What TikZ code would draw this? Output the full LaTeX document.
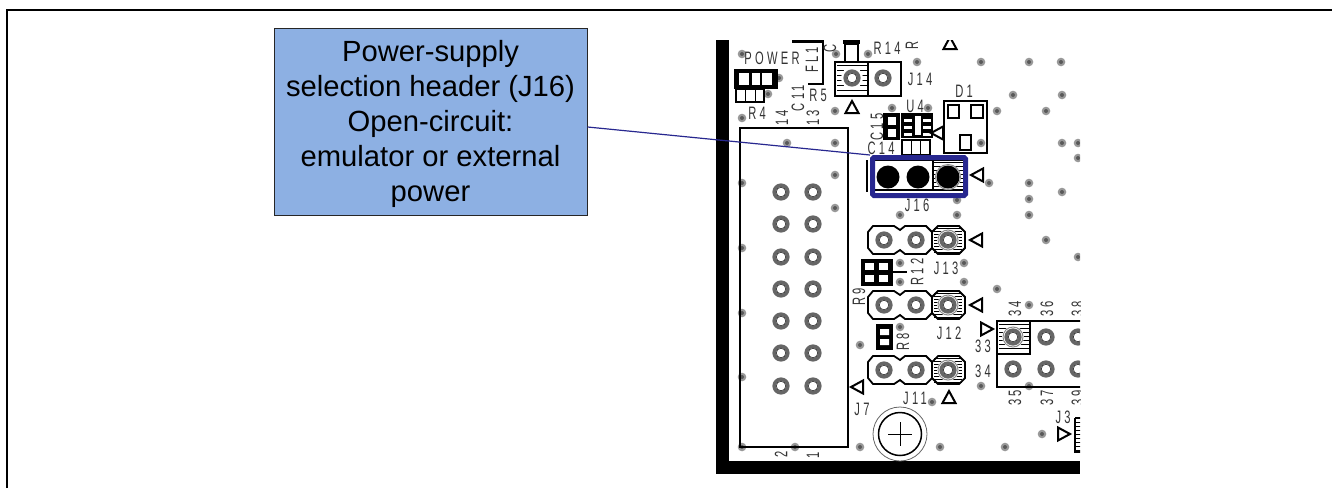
\documentclass[tikz,border=0pt]{standalone}
\usepackage{fontspec}
\setmainfont{Liberation Sans}
\newfontfamily\silkfont[FakeStretch=0.62,LetterSpace=18]{Liberation Sans}
\usetikzlibrary{arrows.meta}
\def\viaList{742/54,836/54,868/54,917/62,981/62,1029/62,1061/62,1013/95,1062/95,768/94,779/78,835/111,742/118,892/108,928/108,997/111,1046/111,787/143,835/143,981/143,1062/143,1078/143,1078/158,835/175,742/183,989/183,1029/183,1062/192,1029/199,835/208,957/200,900/215,957/215,1029/215,1046/240,742/248,1078/257,900/263,964/263,900/282,964/282,997/289,742/313,1029/305,900/327,860/345,742/377,981/386,1029/386,932/402,1042/434,742/447,795/447,860/447,940/447,1005/447}
\newcommand\ringpad[2]{
  \draw[ringline] (#1,#2) circle (6.8);
  \draw[black!85,line width=0.6pt] (#1,#2) circle (4.8);
}
\newcommand\hatchpad[2]{
  \foreach \dy in {-12,-9,...,12}
    \draw[line width=1pt] (#1-14,#2+\dy) -- (#1+14,#2+\dy);
  \fill[white] (#1,#2) circle (11);
  \draw[black!45,line width=1pt] (#1,#2) circle (10);
  \ringpad{#1}{#2}
}
\newcommand\pinrow[1]{
  \draw[line width=1.8pt] (868,#1-8) -- (873,#1-14) -- (894,#1-14) -- (900,#1-10) -- (905,#1-14) -- (926,#1-14) -- (932,#1-8)
    -- (932,#1+8) -- (926,#1+14) -- (905,#1+14) -- (900,#1+10) -- (894,#1+14) -- (873,#1+14) -- (868,#1+8) -- cycle;
  \draw[line width=1.8pt] (932,#1-8) -- (938,#1-14) -- (959,#1-14) -- (965,#1-8) -- (965,#1+8) -- (959,#1+14) -- (938,#1+14) -- (932,#1+8);
  \hatchpad{948}{#1}
  \ringpad{884}{#1}
  \ringpad{916}{#1}
}
\newcommand\pinmark[3]{
  \draw[line width=2pt,rotate around={#3:(#1,#2)}] (#1-6,#2) -- (#1+6,#2-6.5) -- (#1+6,#2+6.5) -- cycle;
}
\begin{document}
\begin{tikzpicture}[
    x=1pt,y=-1pt,
    callout/.style={
      draw=black!85,fill=calloutblue,line width=1pt,
      minimum width=313pt,minimum height=187pt,inner sep=0pt,
      align=center,font=\fontsize{29.2}{35}\selectfont
    },
    silk/.style={
      inner sep=0pt,text=black!80,font=\silkfont\fontsize{18}{18}\selectfont
    },
    ringline/.style={
      line width=3.6pt,black!60
    },
    via/.style={
      fill=black!40
    },
    leader/.style={
      navy,line width=1.2pt
    },
    headerbox/.style={
      draw=navy,line width=5pt,rounded corners=1.5pt,
      minimum width=93pt,minimum height=38pt,inner sep=0pt
    }
  ]
    \definecolor{calloutblue}{HTML}{8DB0E3}
    \definecolor{navy}{HTML}{27278F}
    \useasboundingbox (0,0) rectangle (1332,488);

    % page frame, open on the right and at the bottom
    \draw[line width=2pt] (7,488) -- (7,10) -- (1332,10);

    \begin{scope}
      \clip (710,40) rectangle (1080,480);

      % board edge
      \fill (716,40) rectangle (729,474);
      \fill (716,461) rectangle (1080,474);

      \foreach \x/\y in \viaList {
        \fill[via] (\x,\y) circle (4.3);
        \fill[black!65] (\x,\y) circle (2);
      }

      % J7
      \draw[line width=2pt] (740,128) rectangle (848,447);
      \foreach \y in {192,224,257,289,321,353,386} {
        \ringpad{781}{\y}
        \ringpad{813}{\y}
      }
      \pinmark{857}{387}{0}

      % J14 and the parts above it
      \draw[line width=2pt] (835,62) rectangle (901,96);
      \draw[line width=1.4pt] (868,62) -- (868,96);
      \foreach \y in {65,70,...,93}
        \draw[line width=1pt] (837,\y) -- (867,\y);
      \fill[white] (852,78) circle (11);
      \ringpad{852}{78}
      \ringpad{883}{78}
      \fill (843,40) rectangle (860,44);
      \draw[line width=2pt] (845,44) rectangle (858,62);
      \draw[line width=1.6pt] (823,40) -- (823,84) -- (808,84);
      \fill (792,40) rectangle (823,43);
      \pinmark{852}{107}{270}
      \pinmark{950}{43}{270}

      % POWER parts
      \fill (734,69) rectangle (778,89);
      \foreach \x/\w in {739/10,752/8,762/10} {
        \fill[white] (\x,73) rectangle (\x+\w,85);
      }
      \draw[line width=1.8pt] (736,89) rectangle (764,102);
      \draw[line width=1pt] (745,89) -- (745,102) (755,89) -- (755,102);

      % U4 and C15
      \fill (883,113) rectangle (900,140);
      \foreach \y in {117,129} {
        \fill[white] (888,\y) rectangle (896,\y+8);
      }
      \fill (901,113) rectangle (933,138);
      \foreach \y in {119,126,133} {
        \fill[white] (904,\y) rectangle (912,\y+3);
        \fill[white] (923,\y) rectangle (931,\y+3);
      }
      \fill[white] (915,116) rectangle (921,135);
      \draw[line width=1.6pt] (902,140) rectangle (930,155);
      \draw[line width=1pt] (911,140) -- (911,155) (920,140) -- (920,155);
      \pinmark{937}{133}{0}

      % D1
      \draw[line width=2.4pt] (944,101) rectangle (987,153);
      \draw[line width=1.6pt] (948,105) rectangle (959,118) (971,105) rectangle (983,118) (960,135) rectangle (971,150);

      % J16 under its blue box
      \draw[line width=1.6pt] (867,160) -- (867,192);
      \draw[line width=1.3pt] (874,160) rectangle (964,190);
      \draw[line width=1.1pt] (933,160) -- (933,190);
      \foreach \y in {162,166,...,188}
        \draw[line width=1pt] (934,\y) -- (963,\y);
      \fill[white] (948,177) circle (13);
      \draw[black!45,line width=1pt] (948,177) circle (12.5);
      \foreach \x in {888,918,948}
        \fill (\x,177) circle (11.5);
      \pinmark{977}{175}{0}

      % J13, J12, J11
      \foreach \y in {240,305,370} {
        \pinrow{\y}
      }
      \pinmark{976}{240}{0}
      \pinmark{976}{305}{0}
      \pinmark{949}{397}{270}

      % R12, R9 and R8
      \fill (861,259) rectangle (893,286);
      \foreach \x in {865,879}
        \foreach \y in {263,275}
          \fill[white] (\x,\y) rectangle (\x+9,\y+7);
      \draw[line width=1.2pt] (893,272) -- (907,272);
      \fill (876,324) rectangle (893,350);
      \fill[white] (880,329) rectangle (889,335) (880,339) rectangle (889,345);

      % header 33 to 38
      \draw[line width=2pt] (1085,321) -- (997,321) -- (997,387) -- (1085,387);
      \foreach \y in {324,328,...,350}
        \draw[line width=1pt] (999,\y) -- (1029,\y);
      \draw[line width=1.5pt] (1030,321) -- (1030,354) -- (997,354);
      \fill[white] (1013,337) circle (11);
      \draw[black!45,line width=1pt] (1013,337) circle (10);
      \ringpad{1013}{337}
      \foreach \x in {1046,1078} {
        \ringpad{\x}{337}
      }
      \foreach \x in {1013,1046,1078} {
        \ringpad{\x}{369}
      }
      \pinmark{987}{329}{180}

      % J3
      \pinmark{1064}{434}{180}
      \draw[line width=1.8pt] (1075,418) -- (1085,418) (1075,418) -- (1075,452) -- (1085,452);
      \foreach \y in {422,426,...,450}
        \draw[line width=1pt] (1075,\y) -- (1085,\y);

      % mounting hole
      \draw[black!60,line width=0.8pt] (900,434) circle (27);
      \draw[line width=1.5pt] (900,434) circle (21.5);
      \draw[line width=0.7pt] (888,434) -- (912,434) (900,422) -- (900,446);

      % silkscreen
      \foreach \lbl/\x/\y/\rot [count=\i] in {
        POWER/772/58/0,R14/887/48/0,FL1/812/60/90,C/830/48/90,R/912/45/90,J14/920/79/0,
        D1/964/91/0,U4/915/106/0,R5/818/95/0,C11/798/98/90,R4/757/113/0,14/782/118/90,
        13/813/118/90,C15/877/127/90,C14/881/148/0,J16/917/205/0,J13/946/268/0,R12/917/272/90,
        R9/859/297/90,J12/949/333/0,R8/903/342/90,J11/915/398/0,J7/862/409/0,33/983/346/0,
        34/983/371/0,34/1015/309/90,36/1047/309/90,38/1078/309/90,35/1015/398/90,37/1047/398/90,
        39/1078/398/90,J3/1063/417/0,2/781/454/90,1/813/455/90}
        \node[silk,rotate=\rot] (silk\i) at (\x,\y) {\lbl};
    \end{scope}

    \node[callout] (SupplyNote) at (430.5,121.5) {\rule{0pt}{27pt}Power-supply\\selection header (J16)\\Open-circuit:\\emulator or external\\power};
    \node[headerbox] (HeaderJ) at (919,176.5) {};

    \draw[leader] (SupplyNote.-2) -- (HeaderJ.north west);
  \end{tikzpicture}
\end{document}
